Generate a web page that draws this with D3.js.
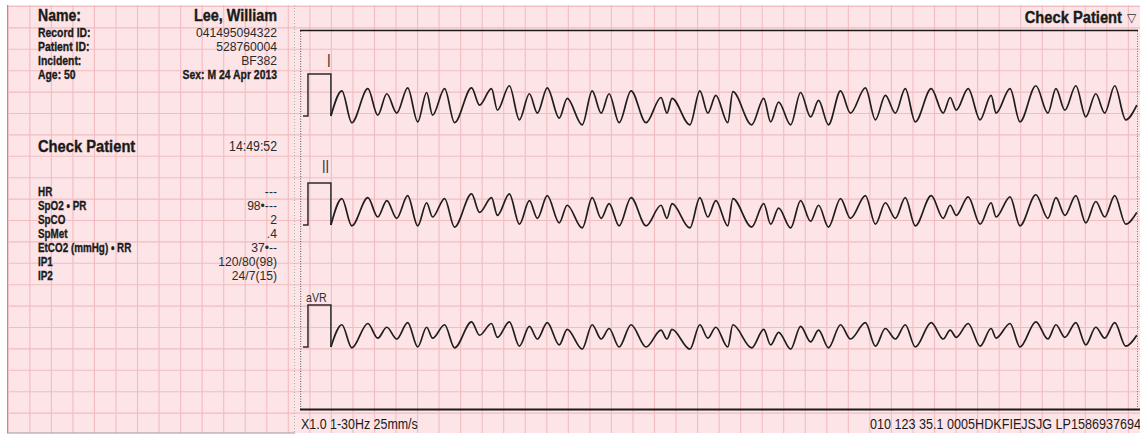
<!DOCTYPE html>
<html>
<head>
<meta charset="utf-8">
<script src="https://cdn.jsdelivr.net/npm/d3@7"></script>
<style>
  html, body { margin: 0; padding: 0; background: #ffffff; }
  svg { display: block; }
</style>
</head>
<body>
<svg id="chart" width="1140" height="435"></svg>
<script>
// ---------------- DATA ----------------
const leadNames = ["I", "II", "aVR"];

// calibration pulse (seconds, mV)
const calTimes  = [0.028, 0.074, 0.074, 0.287, 0.287];
const calValues = [0, 0, 1, 1, 0];

// waveform turning points (seconds)
const waveTimes = [
  0.287, 0.389, 0.481, 0.630, 0.722, 0.806, 0.898, 1.000, 1.093, 1.176,
  1.231, 1.343, 1.435, 1.593, 1.667, 1.778, 1.833, 1.944, 2.037, 2.130,
  2.204, 2.296, 2.407, 2.481, 2.620, 2.713, 2.796, 2.870, 2.963, 3.074,
  3.213, 3.352, 3.407, 3.454, 3.620, 3.713, 3.787, 3.861, 3.972, 4.019,
  4.194, 4.306, 4.370, 4.444, 4.556, 4.648, 4.741, 4.815, 4.907, 5.019,
  5.111, 5.250, 5.343, 5.435, 5.528, 5.620, 5.713, 5.861, 5.972, 6.037,
  6.093, 6.204, 6.315, 6.417, 6.463, 6.593, 6.685, 6.833, 6.944, 7.019,
  7.102, 7.204, 7.296, 7.389, 7.472, 7.565, 7.667, 7.770
];

// lead values (mV)
const leadI = [
  0.00, 0.60, -0.16, 0.65, 0.02, 0.53, 0.07, 0.67, -0.14, 0.56,
  0.02, 0.65, -0.16, 0.67, 0.26, 0.65, 0.14, 0.72, -0.09, 0.53,
  0.07, 0.67, -0.05, 0.42, -0.21, 0.60, 0.07, 0.53, -0.16, 0.60,
  -0.16, 0.44, 0.07, 0.42, -0.21, 0.60, 0.07, 0.49, -0.16, 0.58,
  -0.21, 0.42, -0.14, 0.33, -0.21, 0.56, -0.02, 0.37, -0.21, 0.60,
  0.07, 0.67, -0.09, 0.49, 0.07, 0.65, -0.14, 0.65, 0.07, 0.44,
  0.14, 0.65, -0.09, 0.49, 0.07, 0.65, -0.14, 0.72, 0.07, 0.65,
  0.14, 0.72, -0.02, 0.53, 0.07, 0.72, -0.09, 0.26
];
const leadII = [
  0.00, 0.63, -0.02, 0.65, 0.19, 0.58, 0.16, 0.70, -0.02, 0.53,
  0.19, 0.63, -0.05, 0.74, 0.30, 0.65, 0.23, 0.74, 0.02, 0.58,
  0.16, 0.70, 0.05, 0.47, -0.07, 0.65, 0.16, 0.51, -0.02, 0.65,
  -0.02, 0.47, 0.16, 0.51, -0.07, 0.65, 0.19, 0.58, -0.02, 0.63,
  -0.05, 0.51, 0.02, 0.40, -0.07, 0.58, 0.09, 0.47, -0.05, 0.63,
  0.16, 0.70, 0.02, 0.53, 0.16, 0.65, -0.02, 0.70, 0.16, 0.47,
  0.23, 0.67, 0.02, 0.53, 0.19, 0.67, -0.02, 0.72, 0.16, 0.65,
  0.23, 0.70, 0.05, 0.56, 0.19, 0.70, 0.02, 0.30
];
const leadAVR = [
  0.00, 0.53, -0.02, 0.56, 0.21, 0.47, 0.19, 0.58, 0.00, 0.47,
  0.21, 0.53, -0.02, 0.60, 0.28, 0.56, 0.23, 0.60, 0.02, 0.49,
  0.19, 0.58, 0.05, 0.42, -0.05, 0.53, 0.19, 0.44, 0.00, 0.53,
  0.00, 0.40, 0.19, 0.42, -0.05, 0.53, 0.21, 0.47, 0.00, 0.53,
  -0.02, 0.42, 0.05, 0.35, -0.05, 0.49, 0.12, 0.40, -0.02, 0.53,
  0.19, 0.58, 0.02, 0.44, 0.19, 0.53, 0.00, 0.58, 0.19, 0.40,
  0.23, 0.56, 0.02, 0.44, 0.21, 0.56, 0.00, 0.60, 0.19, 0.53,
  0.23, 0.58, 0.05, 0.47, 0.21, 0.58, 0.02, 0.28
];

const patientLabels = ["Name:", "Record ID:", "Patient ID:", "Incident:", "Age: 50"];
const patientValues = ["Lee, William", "041495094322", "528760004", "BF382", "Sex: M   24 Apr 2013"];
const statusLabel = "Check Patient";
const statusTime = "14:49:52";
const vitalLabels = ["HR", "SpO2 \u2022 PR", "SpCO", "SpMet", "EtCO2 (mmHg) \u2022 RR", "IP1", "IP2"];
const vitalValues = ["---", "98\u2022---", "2", ".4", "37\u2022--", "120/80(98)", "24/7(15)"];
const footerLeft = "X1.0 1-30Hz 25mm/s";
const footerRight = "010 123 35.1 0005HDKFIEJSJG LP1586937694";

// ---------------- DRAW ----------------
const svg = d3.select("#chart");
const W = 1140, H = 435;
const FONT = "'Liberation Sans', Arial, 'Helvetica', sans-serif";

function txt(g, x, y, s, o) {
  o = o || {};
  const t = g.append("text")
    .attr("transform", `translate(${x},${y}) scale(${o.sx || 1},1)`)
    .attr("text-anchor", o.anchor || "start")
    .attr("font-family", FONT)
    .attr("font-weight", o.weight || "normal")
    .attr("font-size", o.size || 13)
    .attr("fill", o.fill || "#1a1a1a")
    .text(s);
  if (o.heavy) t.attr("stroke", o.fill || "#1a1a1a").attr("stroke-width", o.heavy);
  return t;
}

// paper
svg.append("rect").attr("x", 0).attr("y", 0).attr("width", W).attr("height", H).attr("fill", "#ffffff");
svg.append("rect").attr("x", 7).attr("y", 5).attr("width", W - 7).attr("height", 428).attr("fill", "#fce4e7");

// grid
const gx0 = 8.3, gdx = 21.54, gy0 = 6.5, gdy = 21.4;
const grid = svg.append("g").attr("stroke", "#f3bcc1").attr("stroke-width", 1.1);
d3.range(0, 53).forEach(k => {
  const x = gx0 + k * gdx;
  if (x > 8 && x < W) grid.append("line").attr("x1", x).attr("x2", x).attr("y1", 5).attr("y2", 433);
});
d3.range(0, 20).forEach(k => {
  const y = gy0 + k * gdy;
  if (y > 5 && y < 434) grid.append("line").attr("x1", 7).attr("x2", W).attr("y1", y).attr("y2", y);
});

// panel borders
svg.append("line").attr("x1", 7.5).attr("x2", 7.5).attr("y1", 5).attr("y2", 433).attr("stroke", "#9a9a9a").attr("stroke-width", 1);
svg.append("line").attr("x1", 7).attr("x2", 295).attr("y1", 433).attr("y2", 433).attr("stroke", "#9a9a9a").attr("stroke-width", 1);
svg.append("line").attr("x1", 294.5).attr("x2", 294.5).attr("y1", 5).attr("y2", 433)
  .attr("stroke", "#b8b0b0").attr("stroke-width", 1).attr("stroke-dasharray", "1,2");

// chart frame
svg.append("line").attr("x1", 300).attr("x2", 1138).attr("y1", 30.5).attr("y2", 30.5).attr("stroke", "#1a1a1a").attr("stroke-width", 1.5);
svg.append("line").attr("x1", 300).attr("x2", 1140).attr("y1", 409.5).attr("y2", 409.5).attr("stroke", "#1a1a1a").attr("stroke-width", 2);
svg.append("line").attr("x1", 300.7).attr("x2", 300.7).attr("y1", 31).attr("y2", 409)
  .attr("stroke", "#555").attr("stroke-width", 1).attr("stroke-dasharray", "1,1.5");
svg.append("line").attr("x1", 1137.5).attr("x2", 1137.5).attr("y1", 31).attr("y2", 409)
  .attr("stroke", "#777").attr("stroke-width", 1).attr("stroke-dasharray", "1,1.5");

// scales
const x = d3.scaleLinear().domain([0, 7.77]).range([300, 300 + 7.77 * 107.7]);
const baselines = [116, 225, 347];
const leads = [leadI, leadII, leadAVR];

const calLine = d3.line().x(d => x(d.t)).curve(d3.curveLinear);
const waveLine = d3.line().x(d => x(d.t)).curve(d3.curveMonotoneX);

leads.forEach((vals, i) => {
  const y = d3.scaleLinear().domain([0, 1]).range([baselines[i], baselines[i] - 42]);
  const cal = calTimes.map((t, j) => ({ t, v: calValues[j] }));
  const wave = waveTimes.map((t, j) => ({ t, v: vals[j] }));
  svg.append("path").attr("d", calLine.y(d => y(d.v))(cal))
    .attr("fill", "none").attr("stroke", "#2a2a2a").attr("stroke-width", 1.5);
  svg.append("path").attr("d", waveLine.y(d => y(d.v))(wave))
    .attr("fill", "none").attr("stroke", "#1e1e1e").attr("stroke-width", 1.7)
    .attr("stroke-linejoin", "round");
});

// lead labels
txt(svg, 327, 67, leadNames[0], { size: 19, sx: 0.7, fill: "#333" });
txt(svg, 322, 173, leadNames[1], { size: 18, sx: 0.7, fill: "#333" });
txt(svg, 306, 302, leadNames[2], { size: 13, sx: 0.82, fill: "#333" });

// left panel - patient block
const tb = svg.append("g");
const pY = [20.5, 36.5, 50.5, 64.5, 78.5];
patientLabels.forEach((s, i) => {
  txt(tb, 38, pY[i], s, { weight: "bold", size: i === 0 ? 16 : 13, sx: i === 0 ? 0.88 : 0.8, heavy: 0.35 });
});
patientValues.forEach((s, i) => {
  if (i === 0) txt(tb, 277, pY[i], s, { anchor: "end", weight: "bold", size: 16, sx: 0.9, heavy: 0.35 });
  else if (i === 4) txt(tb, 277, pY[i], s, { anchor: "end", weight: "bold", size: 13, sx: 0.8, heavy: 0.35 });
  else txt(tb, 277, pY[i], s, { anchor: "end", size: 13.5, sx: 0.9, fill: "#2a2a2a" });
});
txt(tb, 38, 152, statusLabel, { weight: "bold", size: 16, sx: 0.92, heavy: 0.35 });
txt(tb, 277, 151, statusTime, { anchor: "end", size: 14, sx: 0.88, fill: "#2a2a2a" });

const vY = [196, 210, 224, 238, 252, 266, 280];
vitalLabels.forEach((s, i) => {
  txt(tb, 38, vY[i], s, { weight: "bold", size: 13, sx: 0.76, heavy: 0.35 });
});
vitalValues.forEach((s, i) => {
  txt(tb, 277, vY[i], s, { anchor: "end", size: 13.5, sx: 0.9, fill: "#2a2a2a" });
});

// right header
txt(svg, 1122, 23, statusLabel, { anchor: "end", weight: "bold", size: 16, sx: 0.92, heavy: 0.35 });
svg.append("text").attr("x", 1127).attr("y", 22).attr("font-family", "'DejaVu Sans', sans-serif")
  .attr("font-size", 12).attr("fill", "#333").text("\u25BD");

// footer
txt(svg, 301, 429, footerLeft, { size: 15, sx: 0.83 });
txt(svg, 1141, 429, footerRight, { anchor: "end", size: 15, sx: 0.84 });
</script>
</body>
</html>
